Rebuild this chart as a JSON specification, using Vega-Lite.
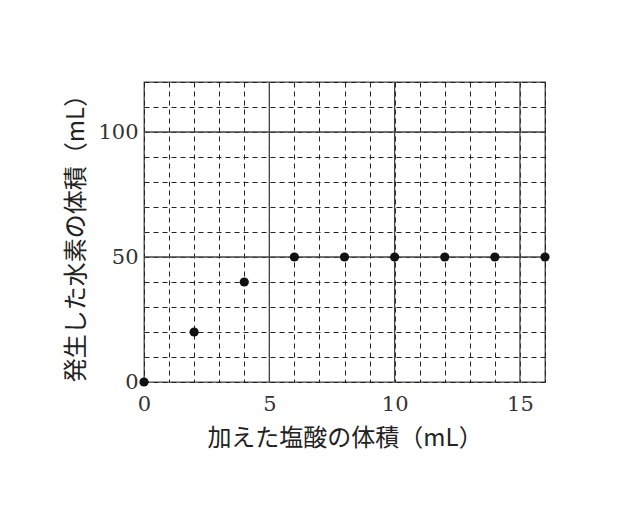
{
  "$schema": "https://vega.github.io/schema/vega-lite/v6.json",
  "width": 401,
  "height": 300,
  "autosize": "none",
  "padding": {"left": 144, "top": 82, "right": 95, "bottom": 128},
  "background": "white",
  "datasets": {
    "points": [
      {"hcl": 0, "h2": 0},
      {"hcl": 2, "h2": 20},
      {"hcl": 4, "h2": 40},
      {"hcl": 6, "h2": 50},
      {"hcl": 8, "h2": 50},
      {"hcl": 10, "h2": 50},
      {"hcl": 12, "h2": 50},
      {"hcl": 14, "h2": 50},
      {"hcl": 16, "h2": 50}
    ],
    "vlines": [{"hcl": 5}, {"hcl": 10}, {"hcl": 15}],
    "hlines": [{"h2": 50}, {"h2": 100}]
  },
  "encoding": {
    "x": {
      "field": "hcl",
      "type": "quantitative",
      "scale": {"domain": [0, 16], "nice": false},
      "title": "加えた塩酸の体積（mL）",
      "axis": {
        "values": [0, 1, 2, 3, 4, 5, 6, 7, 8, 9, 10, 11, 12, 13, 14, 15, 16],
        "labelExpr": "datum.value % 5 === 0 ? datum.label : ''",
        "labelOverlap": false,
        "ticks": false,
        "domain": false,
        "grid": true,
        "gridColor": "#222",
        "gridDash": [5, 4],
        "gridWidth": 1,
        "labelPadding": 11,
        "titlePadding": 12
      }
    },
    "y": {
      "field": "h2",
      "type": "quantitative",
      "scale": {"domain": [0, 120], "nice": false},
      "title": "発生した水素の体積（mL）",
      "axis": {
        "values": [0, 10, 20, 30, 40, 50, 60, 70, 80, 90, 100, 110, 120],
        "labelExpr": "datum.value % 50 === 0 ? datum.label : ''",
        "labelOverlap": false,
        "ticks": false,
        "domain": false,
        "grid": true,
        "gridColor": "#222",
        "gridDash": [5, 4],
        "gridWidth": 1,
        "labelPadding": 6,
        "titlePadding": 9
      }
    }
  },
  "layer": [
    {
      "data": {"name": "vlines"},
      "mark": {"type": "rule", "color": "#444", "strokeWidth": 1.3},
      "encoding": {"y": null}
    },
    {
      "data": {"name": "hlines"},
      "mark": {"type": "rule", "color": "#444", "strokeWidth": 1.3},
      "encoding": {"x": null}
    },
    {
      "data": {"name": "points"},
      "mark": {"type": "point", "filled": true, "color": "#111", "opacity": 1, "size": 85, "clip": false}
    }
  ],
  "config": {
    "view": {"stroke": "#444", "strokeWidth": 1.3},
    "font": "DejaVu Serif, Noto Sans CJK JP",
    "axis": {
      "labelFont": "DejaVu Serif",
      "labelFontSize": 21,
      "labelColor": "#333",
      "titleFont": "Noto Sans CJK JP",
      "titleFontSize": 24,
      "titleFontWeight": "normal",
      "titleColor": "#222",
      "labelFlush": false
    }
  }
}
